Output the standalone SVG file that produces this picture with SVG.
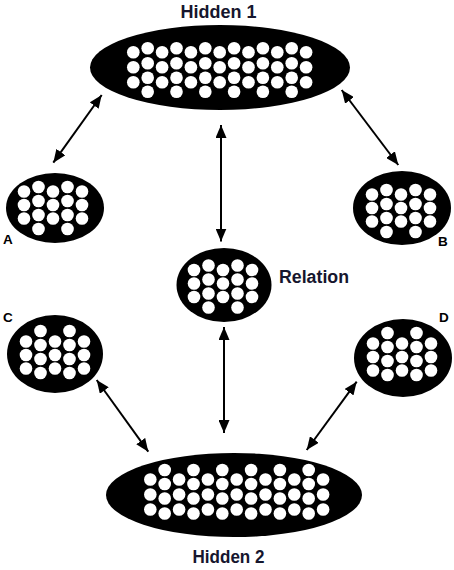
<svg xmlns="http://www.w3.org/2000/svg" xmlns:xlink="http://www.w3.org/1999/xlink" width="454" height="570" viewBox="0 0 454 570">
  <style>
    .blob { fill: #000; }
    .dot { fill: #fff; }
    .conn { stroke: #000; stroke-width: 2; fill: none; marker-start: url(#ah); marker-end: url(#ah); }
    .title { font-family: "Liberation Sans", Arial, sans-serif; font-weight: bold; font-size: 18px; fill: #16162e; }
    .lbl { font-family: "Liberation Sans", Arial, sans-serif; font-weight: bold; font-size: 13.5px; fill: #000; }
  </style>
  <defs>
    <marker id="ah" viewBox="0 0 13 11" refX="13" refY="5.5" markerWidth="13" markerHeight="11" markerUnits="userSpaceOnUse" orient="auto-start-reverse">
      <path d="M0,0 L13,5.5 L0,11 z" fill="#000"/>
    </marker>
    <g id="pat-big">
      <circle class="dot" r="6.3" cx="-86.4" cy="-15"/><circle class="dot" r="6.3" cx="-86.4" cy="0"/><circle class="dot" r="6.3" cx="-86.4" cy="15"/>
      <circle class="dot" r="6.3" cx="-72" cy="-19"/><circle class="dot" r="6.3" cx="-72" cy="-4"/><circle class="dot" r="6.3" cx="-72" cy="10.5"/><circle class="dot" r="6.3" cx="-72" cy="24.5"/>
      <circle class="dot" r="6.3" cx="-57.6" cy="-15"/><circle class="dot" r="6.3" cx="-57.6" cy="0"/><circle class="dot" r="6.3" cx="-57.6" cy="15"/>
      <circle class="dot" r="6.3" cx="-43.2" cy="-19"/><circle class="dot" r="6.3" cx="-43.2" cy="-4"/><circle class="dot" r="6.3" cx="-43.2" cy="10.5"/><circle class="dot" r="6.3" cx="-43.2" cy="24.5"/>
      <circle class="dot" r="6.3" cx="-28.8" cy="-15"/><circle class="dot" r="6.3" cx="-28.8" cy="0"/><circle class="dot" r="6.3" cx="-28.8" cy="15"/>
      <circle class="dot" r="6.3" cx="-14.4" cy="-19"/><circle class="dot" r="6.3" cx="-14.4" cy="-4"/><circle class="dot" r="6.3" cx="-14.4" cy="10.5"/><circle class="dot" r="6.3" cx="-14.4" cy="24.5"/>
      <circle class="dot" r="6.3" cx="0" cy="-15"/><circle class="dot" r="6.3" cx="0" cy="0"/><circle class="dot" r="6.3" cx="0" cy="15"/>
      <circle class="dot" r="6.3" cx="14.4" cy="-19"/><circle class="dot" r="6.3" cx="14.4" cy="-4"/><circle class="dot" r="6.3" cx="14.4" cy="10.5"/><circle class="dot" r="6.3" cx="14.4" cy="24.5"/>
      <circle class="dot" r="6.3" cx="28.8" cy="-15"/><circle class="dot" r="6.3" cx="28.8" cy="0"/><circle class="dot" r="6.3" cx="28.8" cy="15"/>
      <circle class="dot" r="6.3" cx="43.2" cy="-19"/><circle class="dot" r="6.3" cx="43.2" cy="-4"/><circle class="dot" r="6.3" cx="43.2" cy="10.5"/><circle class="dot" r="6.3" cx="43.2" cy="24.5"/>
      <circle class="dot" r="6.3" cx="57.6" cy="-15"/><circle class="dot" r="6.3" cx="57.6" cy="0"/><circle class="dot" r="6.3" cx="57.6" cy="15"/>
      <circle class="dot" r="6.3" cx="72" cy="-19"/><circle class="dot" r="6.3" cx="72" cy="-4"/><circle class="dot" r="6.3" cx="72" cy="10.5"/><circle class="dot" r="6.3" cx="72" cy="24.5"/>
      <circle class="dot" r="6.3" cx="86.4" cy="-15"/><circle class="dot" r="6.3" cx="86.4" cy="0"/><circle class="dot" r="6.3" cx="86.4" cy="15"/>
    </g>
    <g id="pat-small">
      <circle class="dot" r="6.3" cx="-29" cy="-13.5"/><circle class="dot" r="6.3" cx="-29" cy="0"/><circle class="dot" r="6.3" cx="-29" cy="13.5"/>
      <circle class="dot" r="6.3" cx="-14.5" cy="-18"/><circle class="dot" r="6.3" cx="-14.5" cy="-4"/><circle class="dot" r="6.3" cx="-14.5" cy="10"/><circle class="dot" r="6.3" cx="-14.5" cy="24"/>
      <circle class="dot" r="6.3" cx="0" cy="-13.5"/><circle class="dot" r="6.3" cx="0" cy="0"/><circle class="dot" r="6.3" cx="0" cy="13.5"/>
      <circle class="dot" r="6.3" cx="14.5" cy="-18"/><circle class="dot" r="6.3" cx="14.5" cy="-4"/><circle class="dot" r="6.3" cx="14.5" cy="10"/><circle class="dot" r="6.3" cx="14.5" cy="24"/>
      <circle class="dot" r="6.3" cx="29" cy="-13.5"/><circle class="dot" r="6.3" cx="29" cy="0"/><circle class="dot" r="6.3" cx="29" cy="13.5"/>
    </g>
  </defs>
  <rect width="454" height="570" fill="#fff"/>

  <g id="connectors">
    <line class="conn" x1="101.7" y1="95" x2="53.3" y2="162.7"/>
    <line class="conn" x1="221" y1="125" x2="221" y2="241.5"/>
    <line class="conn" x1="341.7" y1="90" x2="398.3" y2="165"/>
    <line class="conn" x1="224" y1="327" x2="224" y2="433"/>
    <line class="conn" x1="96.7" y1="380" x2="148.3" y2="451.7"/>
    <line class="conn" x1="356.7" y1="381.7" x2="306.7" y2="450"/>
  </g>

  <g id="hidden1">
    <ellipse class="blob" cx="220" cy="67.5" rx="130" ry="42.5"/>
    <use xlink:href="#pat-big" href="#pat-big" transform="translate(219.7,67.3)"/>
    <text class="title" x="218.5" y="18" text-anchor="middle" textLength="76" lengthAdjust="spacingAndGlyphs">Hidden 1</text>
  </g>

  <g id="hidden2">
    <ellipse class="blob" cx="234" cy="495" rx="128" ry="42"/>
    <use xlink:href="#pat-big" href="#pat-big" transform="translate(236.7,494.5) scale(1,-1)"/>
    <text class="title" x="228.5" y="563" text-anchor="middle" textLength="72" lengthAdjust="spacingAndGlyphs">Hidden 2</text>
  </g>

  <g id="nodeA">
    <ellipse class="blob" cx="55" cy="208" rx="49" ry="35"/>
    <use xlink:href="#pat-small" href="#pat-small" transform="translate(53,205)"/>
    <text class="lbl" x="3" y="244">A</text>
  </g>

  <g id="nodeB">
    <ellipse class="blob" cx="402" cy="208" rx="49" ry="37"/>
    <use xlink:href="#pat-small" href="#pat-small" transform="translate(401,208)"/>
    <text class="lbl" x="438" y="246">B</text>
  </g>

  <g id="relation">
    <ellipse class="blob" cx="224" cy="285" rx="47.5" ry="37"/>
    <use xlink:href="#pat-small" href="#pat-small" transform="translate(223,283.5)"/>
    <text class="title" x="279" y="283" textLength="70" lengthAdjust="spacingAndGlyphs">Relation</text>
  </g>

  <g id="nodeC">
    <ellipse class="blob" cx="55" cy="354" rx="48" ry="39"/>
    <use xlink:href="#pat-small" href="#pat-small" transform="translate(55,355) scale(1,-1)"/>
    <text class="lbl" x="3" y="322">C</text>
  </g>

  <g id="nodeD">
    <ellipse class="blob" cx="403" cy="358" rx="49" ry="39"/>
    <use xlink:href="#pat-small" href="#pat-small" transform="translate(402,357) scale(1,-1)"/>
    <text class="lbl" x="439" y="322">D</text>
  </g>
</svg>
